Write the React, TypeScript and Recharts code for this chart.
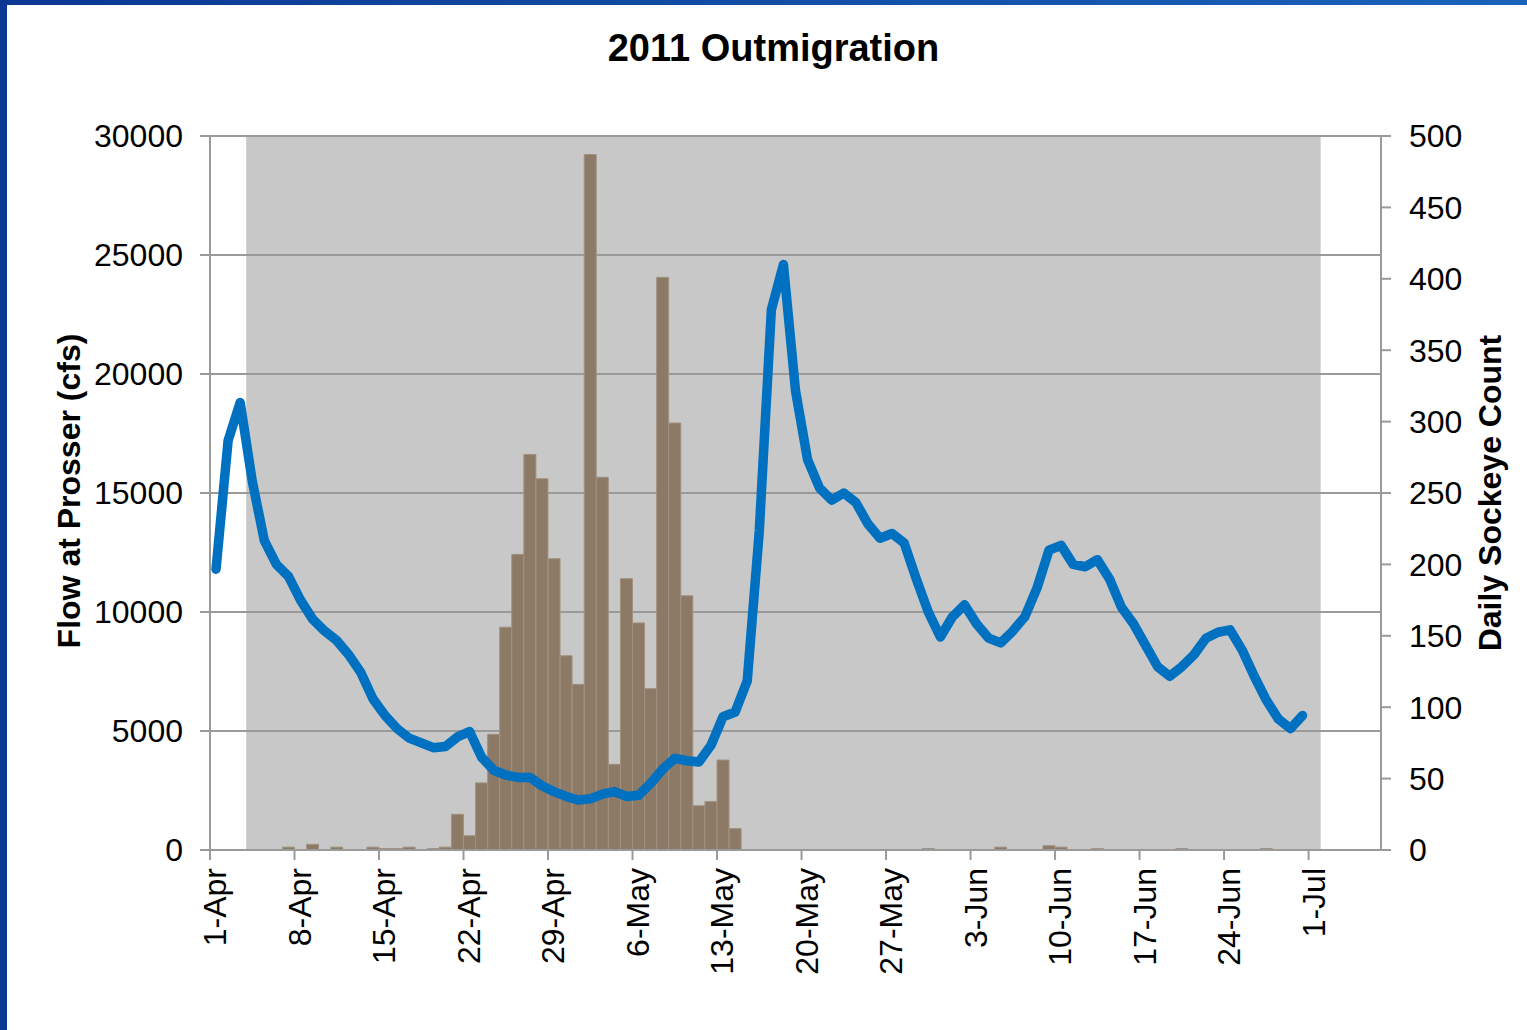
import React from "react";
import {
  Bar,
  CartesianGrid,
  ComposedChart,
  Label,
  Line,
  ReferenceArea,
  XAxis,
  YAxis,
} from "recharts";

// days counted from 1-Apr; each value sits in the middle of its day slot
const tickDays = [0, 7, 14, 21, 28, 35, 42, 49, 56, 63, 70, 77, 84, 91];
const tickLabels = [
  "1-Apr", "8-Apr", "15-Apr", "22-Apr", "29-Apr", "6-May", "13-May",
  "20-May", "27-May", "3-Jun", "10-Jun", "17-Jun", "24-Jun", "1-Jul",
];

// Flow at Prosser (cfs), 1-Apr .. 30-Jun
const flowCfs = [
  11800, 17200, 18800, 15500, 13000, 12000, 11500, 10500, 9700, 9200,
  8800, 8200, 7450, 6350, 5650, 5100, 4700, 4500, 4300, 4350,
  4750, 4980, 3900, 3350, 3150, 3050, 3050, 2700, 2450, 2250,
  2100, 2150, 2350, 2450, 2250, 2300, 2800, 3400, 3850, 3750,
  3700, 4400, 5600, 5800, 7100, 13400, 22700, 24600, 19300, 16400,
  15200, 14700, 15000, 14600, 13700, 13100, 13300, 12900, 11400, 10000,
  8950, 9800, 10300, 9500, 8900, 8700, 9200, 9800, 11000, 12600,
  12800, 12000, 11900, 12200, 11400, 10200, 9500, 8600, 7700, 7300,
  7700, 8200, 8900, 9150, 9250, 8400, 7300, 6300, 5500, 5100,
  5650,
];

// Daily sockeye count, 1-Apr .. 30-Jun
const sockeyeCount = [
  0, 0, 0, 0, 0, 0, 2, 0, 4, 0,
  2, 0, 0, 2, 1, 1, 2, 0, 1, 2,
  25, 10, 47, 81, 156, 207, 277, 260, 204, 136,
  116, 487, 261, 60, 190, 159, 113, 401, 299, 178,
  31, 34, 63, 15, 0, 0, 0, 0, 0, 0,
  0, 0, 0, 0, 0, 0, 0, 0, 0, 1,
  0, 0, 0, 0, 0, 2, 0, 0, 0, 3,
  2, 0, 0, 1, 0, 0, 0, 0, 0, 0,
  1, 0, 0, 0, 0, 0, 0, 1, 0, 0,
  0,
];

// shaded sampling period: start of 4-Apr to end of 1-Jul
const samplingDays = [3, 92];

const flowTicks = [0, 5000, 10000, 15000, 20000, 25000, 30000];
const countTicks = [0, 50, 100, 150, 200, 250, 300, 350, 400, 450, 500];

const rows = flowCfs.map((flow, i) => ({
  day: i + 0.5,
  flow,
  count: sockeyeCount[i],
}));

const FONT = "'Liberation Sans', Arial, sans-serif";
const AXIS_GRAY = "#9a9a9a";

function DateTick({ x, y, payload }: { x: number; y: number; payload: { value: number } }) {
  const label = tickLabels[tickDays.indexOf(payload.value)];
  return (
    <text
      transform={`translate(${x + 16},${y}) rotate(-90)`}
      textAnchor="end"
      fontSize={32}
      fontFamily={FONT}
      fill="#000"
    >
      {label}
    </text>
  );
}

function AxisTitle({ x, y, text }: { x: number; y: number; text: string }) {
  return (
    <text
      x={x}
      y={y}
      transform={`rotate(-90 ${x} ${y})`}
      textAnchor="middle"
      dominantBaseline="central"
      fontSize={32}
      fontWeight="bold"
      fontFamily={FONT}
      fill="#000"
    >
      {text}
    </text>
  );
}

export default function App() {
  const tickStyle = { fill: "#000", fontSize: 32, fontFamily: FONT };
  const line = { stroke: AXIS_GRAY, strokeWidth: 2 };

  return (
    <div
      style={{
        position: "absolute",
        left: 0,
        top: 0,
        width: 1527,
        height: 1030,
        background: "#fff",
        overflow: "hidden",
      }}
    >
      <div
        style={{
          position: "absolute",
          left: 0,
          top: 0,
          width: 1527,
          height: 5,
          background: "linear-gradient(90deg, #0b3892, #1a62ba)",
        }}
      />
      <div
        style={{
          position: "absolute",
          left: 0,
          top: 0,
          width: 7,
          height: 1030,
          background: "#0b3892",
        }}
      />
      <div
        style={{
          position: "absolute",
          left: 0,
          top: 29,
          width: 1547,
          textAlign: "center",
          fontFamily: FONT,
          fontWeight: "bold",
          fontSize: 38,
          lineHeight: "38px",
          color: "#000",
        }}
      >
        2011 Outmigration
      </div>

      <ComposedChart
        width={1527}
        height={1030}
        data={rows}
        margin={{ top: 136, right: 0, bottom: 0, left: 0 }}
        style={{ position: "absolute", left: 0, top: 0 }}
      >
        <ReferenceArea
          x1={samplingDays[0]}
          x2={samplingDays[1]}
          yAxisId="flow"
          y1={0}
          y2={30000}
          fill="#c8c8c8"
          fillOpacity={1}
          stroke="none"
          zIndex={-200}
        />
        <CartesianGrid
          yAxisId="flow"
          vertical={false}
          stroke={AXIS_GRAY}
          strokeWidth={2}
        />
        <XAxis
          dataKey="day"
          type="number"
          domain={[0, 97]}
          ticks={tickDays}
          interval={0}
          height={180}
          tickSize={10}
          tickMargin={8}
          axisLine={line}
          tickLine={line}
          tick={(props: any) => <DateTick {...props} />}
        />
        <YAxis
          yAxisId="flow"
          orientation="left"
          domain={[0, 30000]}
          ticks={flowTicks}
          interval={0}
          width={210}
          tickSize={10}
          tickMargin={17}
          axisLine={line}
          tickLine={line}
          tick={tickStyle}
        >
          <Label content={() => <AxisTitle x={69} y={491} text="Flow at Prosser (cfs)" />} />
        </YAxis>
        <YAxis
          yAxisId="count"
          orientation="right"
          domain={[0, 500]}
          ticks={countTicks}
          interval={0}
          width={146}
          tickSize={10}
          tickMargin={18}
          axisLine={line}
          tickLine={line}
          tick={{ ...tickStyle, textAnchor: "start" }}
        >
          <Label content={() => <AxisTitle x={1490} y={493} text="Daily Sockeye Count" />} />
        </YAxis>
        <Bar
          dataKey="count"
          yAxisId="count"
          fill="#8c7a66"
          stroke="#a0917f"
          strokeWidth={1}
          barSize={12}
          isAnimationActive={false}
        />
        <Line
          dataKey="flow"
          yAxisId="flow"
          type="linear"
          stroke="#0070c0"
          strokeWidth={9.5}
          strokeLinejoin="round"
          strokeLinecap="round"
          dot={false}
          activeDot={false}
          isAnimationActive={false}
        />
      </ComposedChart>
    </div>
  );
}
